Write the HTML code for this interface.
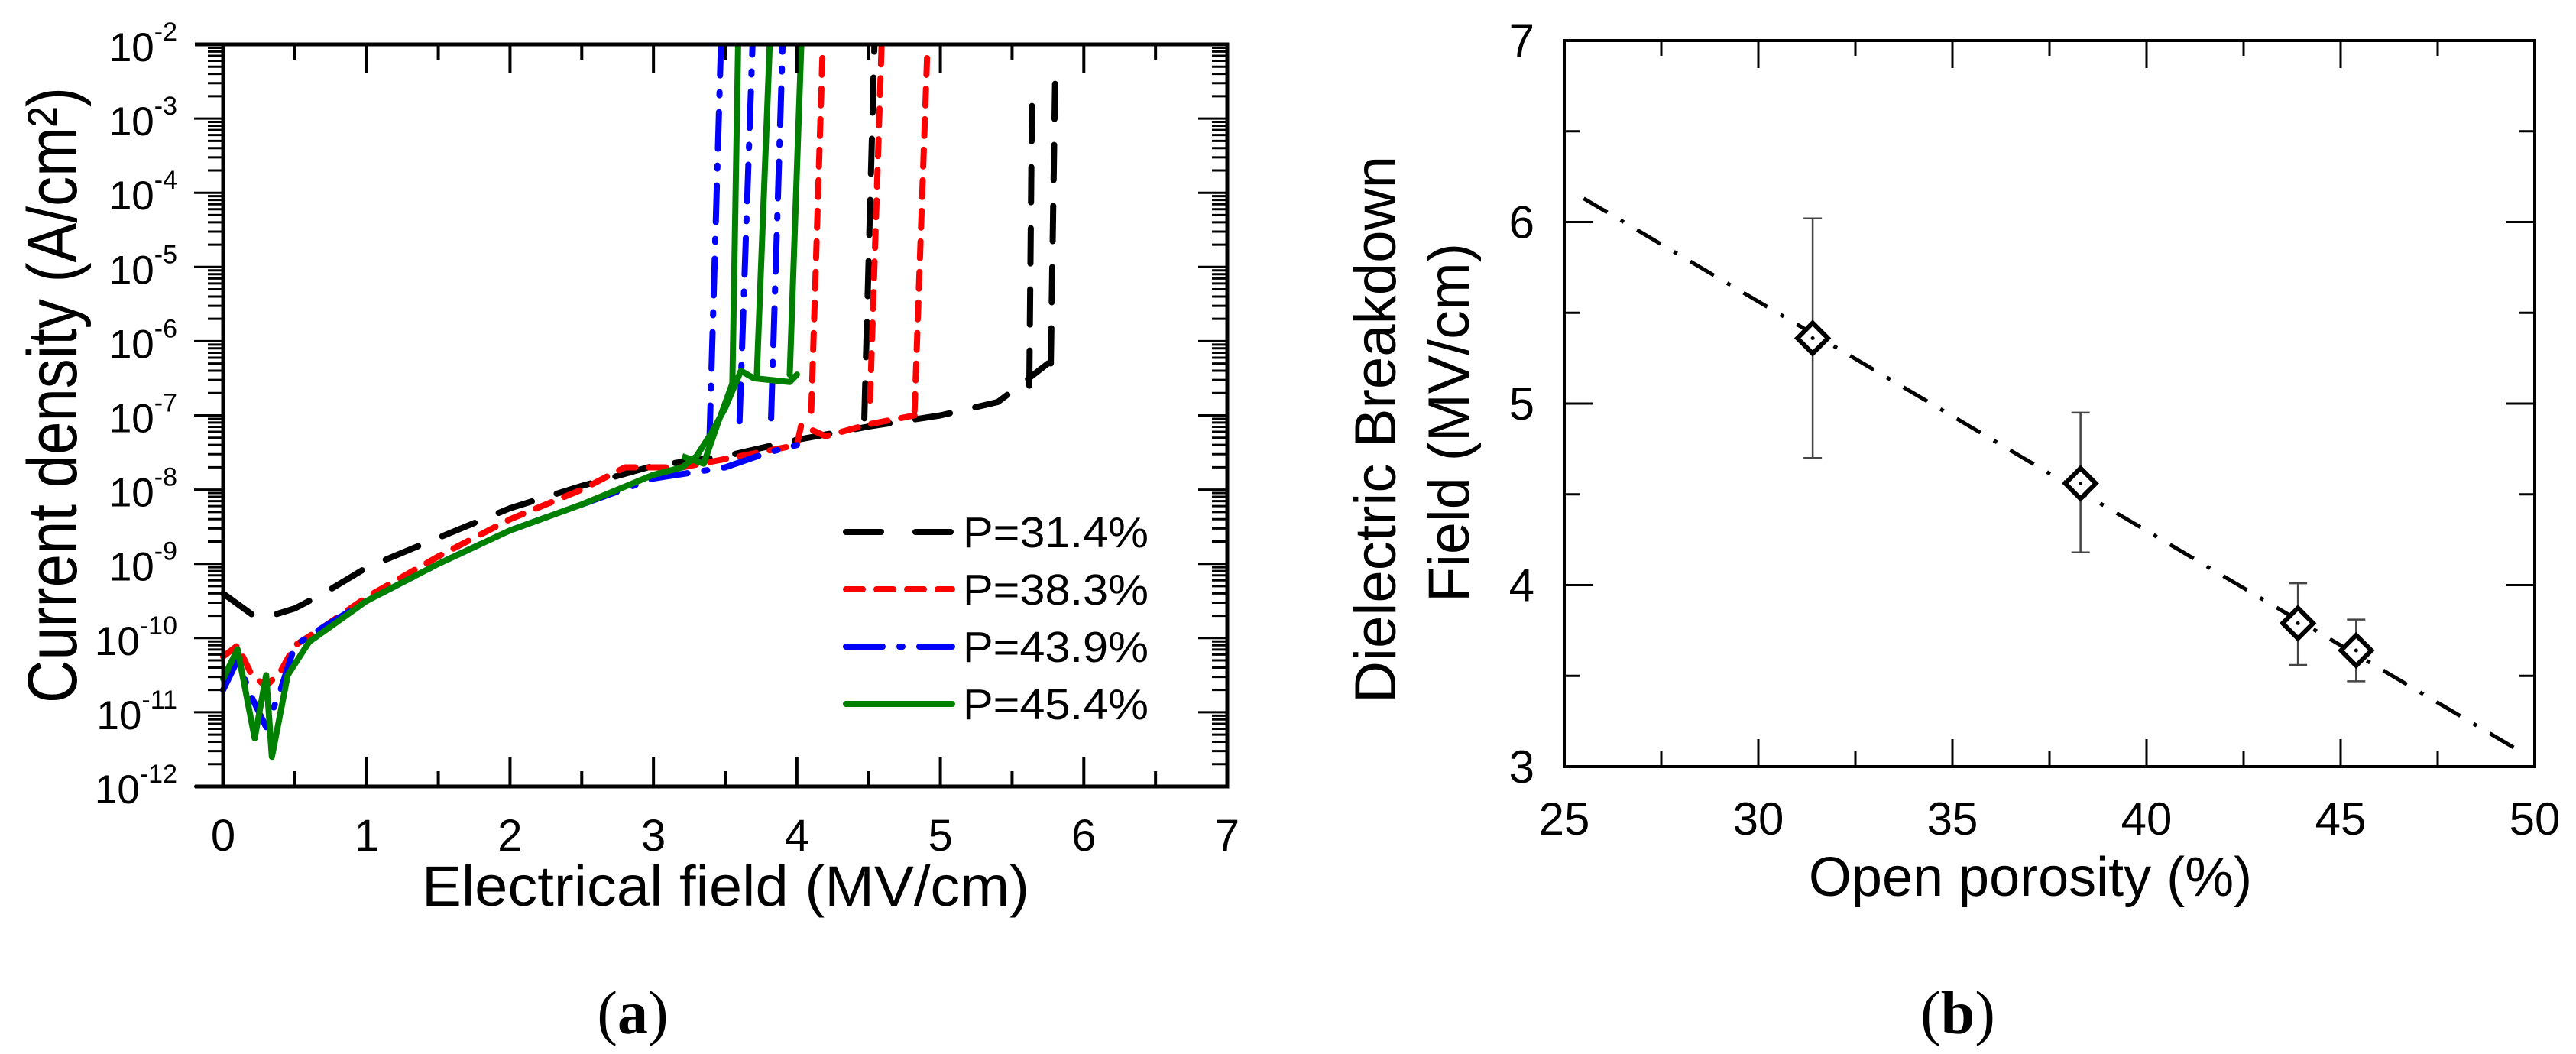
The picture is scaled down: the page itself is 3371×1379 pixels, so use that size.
<!DOCTYPE html>
<html><head><meta charset="utf-8"><style>
html,body{margin:0;padding:0;background:#fff}
svg{display:block;font-family:"Liberation Sans",Arial,sans-serif}
</style></head><body>
<svg id="fig" width="3371" height="1379" viewBox="0 0 3371 1379" xmlns="http://www.w3.org/2000/svg">
<rect width="3371" height="1379" fill="#fff"/>
<g id="left"></g>
<g id="right"></g>
<text x="828" y="1352" font-family="Liberation Serif,serif" font-size="80" text-anchor="middle">(<tspan font-weight="bold">a</tspan>)</text>
<text x="2562" y="1352" font-family="Liberation Serif,serif" font-size="80" text-anchor="middle">(<tspan font-weight="bold">b</tspan>)</text>
</svg>
<script>
// ---------- Left chart data ----------
const seriesNames = ["P=31.4%","P=38.3%","P=43.9%","P=45.4%"];
const seriesColors = ["#000000","#ff0000","#0000ff","#008000"];
const xTicksA = [0,1,2,3,4,5,6,7];
const yTicksExpA = [-2,-3,-4,-5,-6,-7,-8,-9,-10,-11,-12];
// main curves: [E (MV/cm), log10 J]
const curve314 = [[0,-9.4],[0.2,-9.68],[0.3,-9.72],[0.5,-9.6],[0.7,-9.4],[1,-9.05],[1.5,-8.65],[2,-8.25],[2.5,-7.95],[3,-7.68],[3.5,-7.55],[4,-7.33],[4.5,-7.15],[5,-7.0],[5.4,-6.82],[5.55,-6.6],[5.75,-6.3]];
const curve383 = [[0,-10.25],[0.1,-10.1],[0.2,-10.5],[0.3,-10.65],[0.4,-10.45],[0.5,-10.1],[0.7,-9.85],[1,-9.45],[1.5,-8.9],[2,-8.4],[2.5,-8.0],[2.8,-7.7],[3.2,-7.7],[3.6,-7.55],[4.0,-7.4],[4.03,-7.13],[4.2,-7.28],[4.5,-7.12],[4.82,-7.0]];
const curve439 = [[0,-10.7],[0.1,-10.3],[0.2,-10.8],[0.3,-11.2],[0.4,-10.7],[0.5,-10.1],[0.7,-9.85],[1,-9.5],[1.5,-9.0],[2,-8.55],[2.5,-8.2],[3,-7.85],[3.5,-7.7],[3.8,-7.5],[4.0,-7.4]];
const curve454 = [[0,-10.55],[0.1,-10.15],[0.22,-11.35],[0.3,-10.5],[0.34,-11.6],[0.45,-10.5],[0.6,-10.05],[1,-9.5],[1.5,-9.0],[2,-8.55],[2.5,-8.2],[3,-7.8],[3.2,-7.7],[3.3,-7.55],[3.4,-7.25],[3.5,-6.9],[3.61,-6.4],[3.7,-6.5],[3.95,-6.55],[4.0,-6.45]];
const curve454b = [[3.2,-7.55],[3.35,-7.65],[3.45,-7.1],[3.55,-6.57]];
// breakdown verticals: [E bottom, logJ bottom, E top, logJ top]
const bd314 = [[4.47,-7.04,4.54,-2],[5.62,-6.6,5.64,-2.5],[5.77,-6.3,5.8,-2.5]];
const bd383 = [[4.10,-6.94,4.18,-2],[4.51,-6.8,4.59,-2],[4.82,-6.94,4.91,-2]];
const bd439 = [[3.39,-7.36,3.47,-2],[3.60,-7.08,3.69,-2],[3.82,-7.04,3.90,-2]];
const bd454 = [[3.55,-6.57,3.59,-2],[3.72,-6.48,3.81,-2],[3.95,-6.45,4.03,-2]];

// ---------- Right chart data ----------
const porosity = [31.4,38.3,43.9,45.4];
const breakdown = [5.36,4.56,3.79,3.64];
const errLow = [4.70,4.18,3.56,3.47];
const errHigh = [6.02,4.95,4.01,3.81];
const fitX = [25.5,49.5];
const fitY = [6.13,3.10];
const xTicksB = [25,30,35,40,45,50];
const yTicksB = [3,4,5,6,7];

const NS="http://www.w3.org/2000/svg";
function mk(parent,tag,attrs,txt){const e=document.createElementNS(NS,tag);for(const k in attrs)e.setAttribute(k,attrs[k]);if(txt!==undefined)e.textContent=txt;parent.appendChild(e);return e;}

// ---- Left axes ----
const A={x0:292,x1:1606,y0:1029,y1:58};
const xA=v=>A.x0+(v-0)/7*(A.x1-A.x0);
const yA=l=>A.y0+(l+12)/10*(A.y1-A.y0);
const L=document.getElementById('left');
const dashes={"#000000":"46 34","#ff0000":"22 18","#0000ff":"48 22 4 22","#008000":""};
const curves=[curve314,curve383,curve439,curve454];
const bds=[bd314,bd383,bd439,bd454];
for(let s=0;s<4;s++){
  const col=seriesColors[s];
  const pts=curves[s].map(p=>xA(p[0]).toFixed(1)+","+yA(p[1]).toFixed(1)).join(" ");
  const pl=mk(L,'polyline',{points:pts,fill:'none',stroke:col,'stroke-width':8,'stroke-dasharray':dashes[col],'stroke-linejoin':'round','stroke-linecap':'round'});
  
  
  bds[s].forEach((b,i)=>{
    const ln=mk(L,'line',{x1:xA(b[0]),y1:yA(b[1]),x2:xA(b[2]),y2:Math.max(yA(b[3]),A.y1+3),stroke:col,'stroke-width':8,'stroke-dasharray':dashes[col],'stroke-linecap':'round'});
    
    
  });
  if(s==3){
    const p2=mk(L,'polyline',{points:curve454b.map(p=>xA(p[0])+","+yA(p[1])).join(" "),fill:'none',stroke:col,'stroke-width':8,'stroke-linejoin':'round'});
    
    
  }
}
// frame
const fr=mk(L,'path',{d:`M${A.x0-37},${A.y0}H${A.x1}V${A.y1}H${A.x0-37}M${A.x0},${A.y1}V${A.y0}`,fill:'none',stroke:'#000','stroke-width':5});


// x ticks
const xt=mk(L,'g',{});


for(let v=0;v<=7;v+=0.5){
  const major=Number.isInteger(v);const len=major?38:20;const X=xA(v);
  mk(xt,'line',{x1:X,y1:A.y0,x2:X,y2:A.y0-len,stroke:'#000','stroke-width':4});
  mk(xt,'line',{x1:X,y1:A.y1,x2:X,y2:A.y1+len,stroke:'#000','stroke-width':4});
}
xTicksA.forEach(v=>{const t=mk(L,'text',{x:xA(v),y:1113,'font-size':58,'text-anchor':'middle'},String(v));
  
  });
// y ticks (log)
const yt=mk(L,'g',{});


for(let d=-12;d<-2;d++){
  for(let m=1;m<10;m++){
    const Y=yA(d+Math.log10(m));
    const len=m==1?38:20;
    mk(yt,'line',{x1:A.x0,y1:Y,x2:A.x0-len,y2:Y,stroke:'#000','stroke-width':3});
    mk(yt,'line',{x1:A.x1,y1:Y,x2:A.x1-len,y2:Y,stroke:'#000','stroke-width':3});
  }
}
yTicksExpA.forEach(e=>{
  const t=mk(L,'text',{x:232,y:yA(e)+22,'font-size':53,'text-anchor':'end'});
  
  
  mk(t,'tspan',{},'10');
  mk(t,'tspan',{dy:-27,'font-size':34},String(e));
});
// axis titles
const xtA=mk(L,'text',{x:552,y:1185,'font-size':74,textLength:795,lengthAdjust:'spacingAndGlyphs'},'Electrical field (MV/cm)');


const ytA=mk(L,'text',{x:0,y:0,'font-size':92,'text-anchor':'middle',textLength:806,lengthAdjust:'spacingAndGlyphs',transform:'translate(100,517) rotate(-90)'},'Current density (A/cm²)');


// legend
const lg=mk(L,'g',{});


const legY=[696,771,846,921];
for(let s=0;s<4;s++){
  const col=seriesColors[s];
  const e=mk(lg,'g',{});
  
  
  mk(e,'line',{x1:1107,y1:legY[s],x2:1246,y2:legY[s],stroke:col,'stroke-width':8,'stroke-dasharray':s==0?'46 45':dashes[col],'stroke-linecap':'round'});
  mk(e,'text',{x:1260,y:legY[s]+20,'font-size':57,textLength:243,lengthAdjust:'spacingAndGlyphs'},seriesNames[s]);
}

// ---- Right axes ----
const B={x0:2047,x1:3317,y0:1003,y1:53};
const xB=v=>B.x0+(v-25)/25*(B.x1-B.x0);
const yB=v=>B.y0+(v-3)/4*(B.y1-B.y0);
const R=document.getElementById('right');
const fr2=mk(R,'rect',{x:B.x0,y:B.y1,width:B.x1-B.x0,height:B.y0-B.y1,fill:'none',stroke:'#000','stroke-width':4});


const tk=mk(R,'g',{});


for(let v=25;v<=50;v+=2.5){const X=xB(v);const len=(v%5==0)?36:20;
  mk(tk,'line',{x1:X,y1:B.y0,x2:X,y2:B.y0-len,stroke:'#000','stroke-width':3});
  mk(tk,'line',{x1:X,y1:B.y1,x2:X,y2:B.y1+len,stroke:'#000','stroke-width':3});}
for(let v=3;v<=7;v+=0.5){const Y=yB(v);const len=Number.isInteger(v)?38:20;
  mk(tk,'line',{x1:B.x0,y1:Y,x2:B.x0+len,y2:Y,stroke:'#000','stroke-width':3});
  mk(tk,'line',{x1:B.x1,y1:Y,x2:B.x1-len,y2:Y,stroke:'#000','stroke-width':3});}
xTicksB.forEach(v=>{const t=mk(R,'text',{x:xB(v),y:1092,'font-size':60,'text-anchor':'middle'},String(v));
  
  });
yTicksB.forEach(v=>{const t=mk(R,'text',{x:2008,y:yB(v)+21,'font-size':60,'text-anchor':'end'},String(v));
  
  });
const xtB=mk(R,'text',{x:2657,y:1172,'font-size':72,'text-anchor':'middle'},'Open porosity (%)');


const ytB1=mk(R,'text',{x:0,y:0,'font-size':76,'text-anchor':'middle',textLength:716,lengthAdjust:'spacingAndGlyphs',transform:'translate(1826,562) rotate(-90)'},'Dielectric Breakdown');


const ytB2=mk(R,'text',{x:0,y:0,'font-size':76,'text-anchor':'middle',textLength:470,lengthAdjust:'spacingAndGlyphs',transform:'translate(1922,553) rotate(-90)'},'Field (MV/cm)');


// fit line
const fit=mk(R,'line',{x1:xB(fitX[0]),y1:yB(fitY[0]),x2:xB(fitX[1]),y2:yB(fitY[1]),stroke:'#000','stroke-width':5,'stroke-dasharray':'36 20 5 20'});


// points + error bars
porosity.forEach((p,i)=>{
  const g=mk(R,'g',{});
  
  
  const X=xB(p),Y=yB(breakdown[i]),Yl=yB(errLow[i]),Yh=yB(errHigh[i]);
  mk(g,'line',{x1:X,y1:Yl,x2:X,y2:Yh,stroke:'#444','stroke-width':2.5});
  mk(g,'line',{x1:X-12,y1:Yl,x2:X+12,y2:Yl,stroke:'#444','stroke-width':2.5});
  mk(g,'line',{x1:X-12,y1:Yh,x2:X+12,y2:Yh,stroke:'#444','stroke-width':2.5});
  mk(g,'path',{d:`M${X},${Y-20}L${X+20},${Y}L${X},${Y+20}L${X-20},${Y}Z`,fill:'#fff',stroke:'#000','stroke-width':6});
  mk(g,'circle',{cx:X,cy:Y,r:2.5,fill:'#000'});
});
</script>
</body></html>
